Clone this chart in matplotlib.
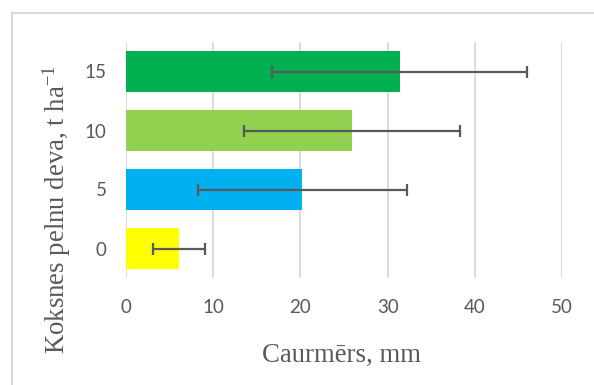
import matplotlib
matplotlib.use("Agg")
import matplotlib.pyplot as plt
from matplotlib.patches import Rectangle

categories = ["0", "5", "10", "15"]
values = [6.1, 20.2, 25.9, 31.4]
errors = [3.0, 12.0, 12.4, 14.6]
bar_colors = ["#FFFF00", "#00B0F0", "#92D050", "#00B050"]
x_ticks = [0, 10, 20, 30, 40, 50]

plt.rcParams['mathtext.fontset'] = 'custom'
plt.rcParams['mathtext.rm'] = 'Liberation Serif'
plt.rcParams['mathtext.it'] = 'Liberation Serif:italic'

W, H = 594, 385
fig = plt.figure(figsize=(W / 100, H / 100), dpi=100)
fig.patch.set_facecolor("white")

# outer chart border (left/top visible only)
fig.patches.append(Rectangle((12 / W, -0.1), 1.2, 1.1 - 13 / H,
                             transform=fig.transFigure, fill=False,
                             edgecolor="#D9D9D9", linewidth=1.5))

ax = fig.add_axes([126 / W, 1 - 278 / H, (562 - 126) / W, (278 - 42) / H])
pos = list(range(len(categories)))
ax.barh(pos, values, height=0.69, color=bar_colors, zorder=2)
ax.errorbar(values, pos, xerr=errors, fmt="none", ecolor="#595959",
            elinewidth=1.6, capsize=4, capthick=1.6, zorder=3)

ax.set_xlim(0, 50)
ax.set_ylim(-0.5, 3.5)
ax.set_xticks(x_ticks)
ax.set_yticks(pos)
ax.set_yticklabels(categories)
ax.grid(axis="x", color="#D9D9D9", linewidth=1.3, zorder=0)
ax.set_axisbelow(True)
for s in ax.spines.values():
    s.set_visible(False)
ax.tick_params(axis="both", length=0, colors="#595959", labelsize=13.5)
ax.tick_params(axis="x", pad=15)
ax.tick_params(axis="y", pad=14)
for lab in ax.get_xticklabels() + ax.get_yticklabels():
    lab.set_fontfamily("Lato")

fig.text(341 / W, 1 - 355 / H, "Caurmērs, mm", ha="center", va="center",
         fontsize=19.3, color="#595959", family="Liberation Serif")
fig.text(57 / W, 1 - 209 / H, r"Koksnes pelnu deva, t ha$^{\mathregular{-1}}$",
         ha="center", va="center", rotation=90,
         fontsize=19.3, color="#595959", family="Liberation Serif")

fig.savefig("out.png", dpi=100, facecolor="white")
